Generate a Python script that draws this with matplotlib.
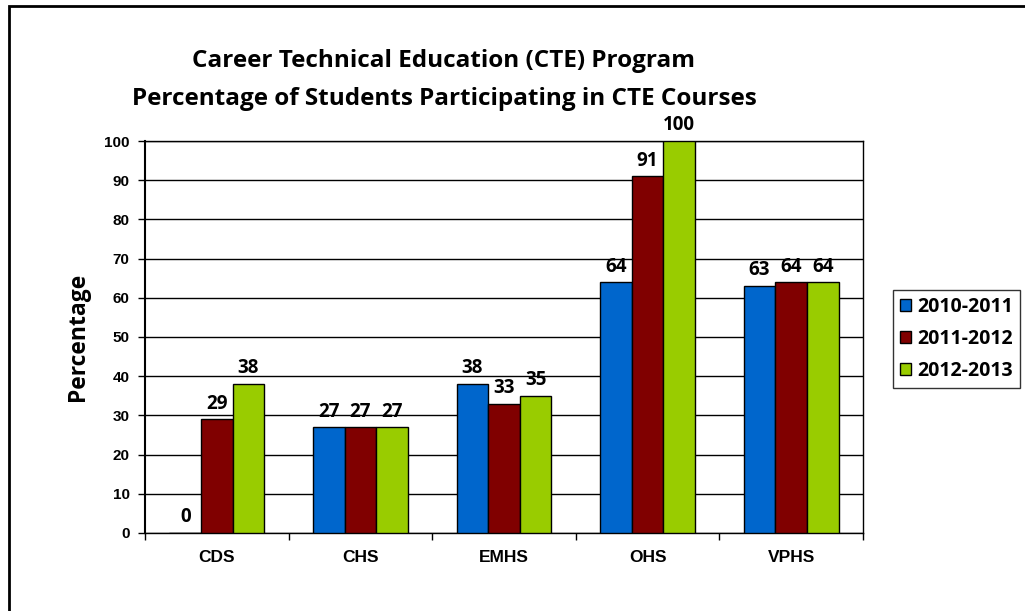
import numpy as np
import matplotlib.pyplot as plt
from matplotlib.patches import Rectangle

# ─────────────────────────────────────────────
# Data
# ─────────────────────────────────────────────
schools = ["CDS", "CHS", "EMHS", "OHS", "VPHS"]
years   = ["2010-2011", "2011-2012", "2012-2013"]
y2010   = [0, 27, 38, 64, 63]
y2011   = [29, 27, 33, 91, 64]
y2012   = [38, 27, 35, 100, 64]
bar_colors = ["#0066CC", "#800000", "#99CC00"]

TITLE = ("Career Technical Education (CTE) Program\n"
         "Percentage of Students Participating in CTE Courses")

LABEL_FONT = "Open Sans"
TICK_FONT  = "Liberation Sans"

# ─────────────────────────────────────────────
# Layout
# ─────────────────────────────────────────────
fig = plt.figure(figsize=(10.25, 6.11), dpi=100)
ax = fig.add_axes([145 / 1025, 78 / 611, 718 / 1025, 392 / 611])

# outer chart frame (runs off the right and bottom edges)
fig.patches.append(Rectangle((9 / 1025, -0.05), 1.1, 1 - 6 / 611 + 0.05,
                             transform=fig.transFigure, fill=False,
                             edgecolor="black", linewidth=2))

x = np.arange(len(schools))
w = 0.22
series = [y2010, y2011, y2012]

for i, (vals, col, lab) in enumerate(zip(series, bar_colors, years)):
    pos = x + (i - 1) * w
    bars = ax.bar(pos, vals, width=w, color=col, edgecolor="black",
                  linewidth=1.0, label=lab, zorder=3)
    for b, v in zip(bars, vals):
        ax.annotate(str(v), (b.get_x() + b.get_width() / 2, v),
                    xytext=(0, 4), textcoords="offset points",
                    ha="center", va="bottom", fontsize=13.5,
                    fontweight="bold", family=LABEL_FONT)

ax.set_xlim(-0.5, len(schools) - 0.5)
ax.set_ylim(0, 100)
ax.set_yticks(np.arange(0, 101, 10))
ax.yaxis.grid(True, color="black", linewidth=1.0, zorder=0)
ax.set_axisbelow(True)

ax.set_xticks(x)
ax.set_xticklabels(schools, fontsize=12.5, fontweight="bold", family=TICK_FONT)
ax.set_xticks(np.arange(-0.5, len(schools)), minor=True)
ax.tick_params(axis="x", which="major", length=0, pad=12)
ax.tick_params(axis="x", which="minor", length=5, width=1, direction="out")
ax.tick_params(axis="y", length=5, width=1, direction="out", pad=6)
for t in ax.get_yticklabels():
    t.set_fontsize(11)
    t.set_fontweight("bold")
    t.set_family(TICK_FONT)

for spine in ax.spines.values():
    spine.set_linewidth(1.0)
    spine.set_color("black")
ax.spines["left"].set_linewidth(1.5)

ax.set_ylabel("Percentage", fontsize=16.5, fontweight="bold",
              family=LABEL_FONT, labelpad=10)

fig.text(444 / 1025, 1 - 80 / 611, TITLE, ha="center", va="center",
         fontsize=17.5, fontweight="bold", family=LABEL_FONT, linespacing=1.8)

leg = ax.legend(loc="center left", bbox_to_anchor=(893 / 1025, 1 - 339 / 611),
                bbox_transform=fig.transFigure, frameon=True, fancybox=False,
                edgecolor="black", handlelength=0.6, handleheight=0.6,
                handletextpad=0.3, labelspacing=0.62, borderpad=0.35,
                borderaxespad=0,
                prop={"family": LABEL_FONT, "weight": "bold", "size": 14})
leg.get_frame().set_linewidth(1.0)

plt.savefig("out.png", dpi=100)
